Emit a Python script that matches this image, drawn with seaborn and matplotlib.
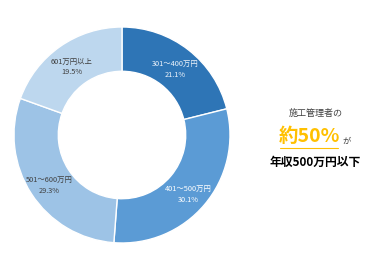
import matplotlib
matplotlib.use("Agg")
import matplotlib.pyplot as plt
import seaborn as sns
import numpy as np

categories = ["301～400万円", "401～500万円", "501～600万円", "601万円以上"]
values = [21.1, 30.1, 29.3, 19.5]
colors = ["#2E75B6", "#5B9BD5", "#9DC3E6", "#BDD7EE"]
label_colors = ["#EEF4FB", "#FFFFFF", "#404040", "#404040"]

sns.set_theme(style="white")
plt.rcParams['font.family'] = ['Noto Sans CJK JP', 'DejaVu Sans']

fig = plt.figure(figsize=(3.84, 2.70), dpi=100)
fig.patch.set_facecolor("white")
ax = fig.add_axes([14/384, 27/270, 216/384, 216/270])
pal = sns.color_palette(colors)
inner = 0.59
wedges, _ = ax.pie(values, colors=pal, startangle=90, counterclock=False,
                   radius=1.0, wedgeprops=dict(width=1 - inner, edgecolor="white", linewidth=1.0))
ang = 90.0
rmid = (1 + inner) / 2 + 0.01
for cat, v, lc in zip(categories, values, label_colors):
    a = ang - v / 100 * 360 / 2
    ang -= v / 100 * 360
    x = rmid * np.cos(np.radians(a))
    y = rmid * np.sin(np.radians(a)) - 0.03
    ax.text(x, y, f"{cat}\n{v:.1f}%", ha="center", va="center", fontsize=5.3,
            color=lc, linespacing=1.45)
ax.set_xlim(-1, 1)
ax.set_ylim(-1, 1)
ax.set_aspect("equal")
ax.axis("off")

fig.text(316/384, 1 - 113/270, "施工管理者の", ha="center", va="center", fontsize=6.5, color="#404040")
fig.text(309/384, 1 - 136/270, "約50%", ha="center", va="center", fontsize=14, fontweight="bold", color="#FFC000")
fig.add_artist(plt.Line2D([280/384, 338/384], [1 - 147.5/270, 1 - 147.5/270],
                          transform=fig.transFigure, color="#FFC000", linewidth=0.8))
fig.text(347/384, 1 - 141/270, "が", ha="center", va="center", fontsize=6, color="#404040")
fig.text(315/384, 1 - 162/270, "年収500万円以下", ha="center", va="center", fontsize=8.5, fontweight="bold", color="#000000")

fig.savefig("out.png", dpi=100, facecolor="white")
